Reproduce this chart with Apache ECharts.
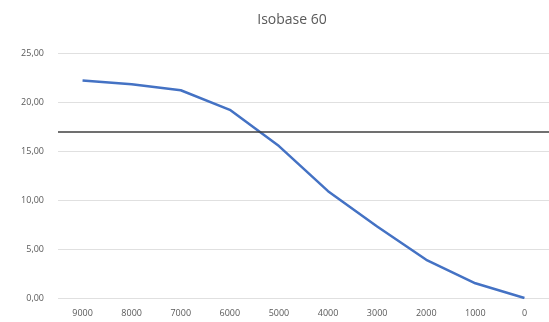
<!DOCTYPE html>
<html><head><meta charset="utf-8">
<script src="https://cdn.jsdelivr.net/npm/echarts@6/dist/echarts.min.js"></script>
<style>html,body{margin:0;padding:0;background:#fff}#c{width:549px;height:322px}</style>
</head><body><div id="c"></div>
<script>
const categories = ['9000','8000','7000','6000','5000','4000','3000','2000','1000','0'];
const values = [22.2, 21.8, 21.2, 19.2, 15.5, 10.9, 7.3, 3.9, 1.5, 0];
const refLine = 17.0;
const yTicks = [0, 5, 10, 15, 20, 25];

const chart = echarts.init(document.getElementById('c'), null, {renderer:'canvas'});
chart.setOption({
  animation: false,
  backgroundColor: '#fff',
  title: {
    text: 'Isobase 60', left: 287, top: 8, textAlign: 'center',
    textStyle: {fontFamily: 'Open Sans', fontSize: 14, fontWeight: 'normal', color: '#595959'}
  },
  grid: {left: 58, right: 0, top: 53, bottom: 24},
  xAxis: {
    type: 'category', data: categories, boundaryGap: true,
    axisLine: {show: false}, axisTick: {show: false},
    axisLabel: {fontFamily: 'Open Sans', fontSize: 9, color: '#595959', margin: 11}
  },
  yAxis: {
    type: 'value', min: yTicks[0], max: yTicks[yTicks.length-1], interval: 5,
    axisLine: {show: false}, axisTick: {show: false},
    splitLine: {lineStyle: {color: '#e0e0e0', width: 1}},
    axisLabel: {fontFamily: 'Open Sans', fontSize: 9, color: '#595959', margin: 14,
      formatter: v => v.toFixed(2).replace('.', ',')}
  },
  series: [{
    type: 'line', data: values, symbol: 'none',
    lineStyle: {color: '#4472C4', width: 2.5},
    markLine: {
      silent: true, symbol: 'none', label: {show: false},
      lineStyle: {color: '#404040', type: 'solid', width: 1.5},
      data: [{yAxis: refLine}]
    }
  }]
});
</script></body></html>
